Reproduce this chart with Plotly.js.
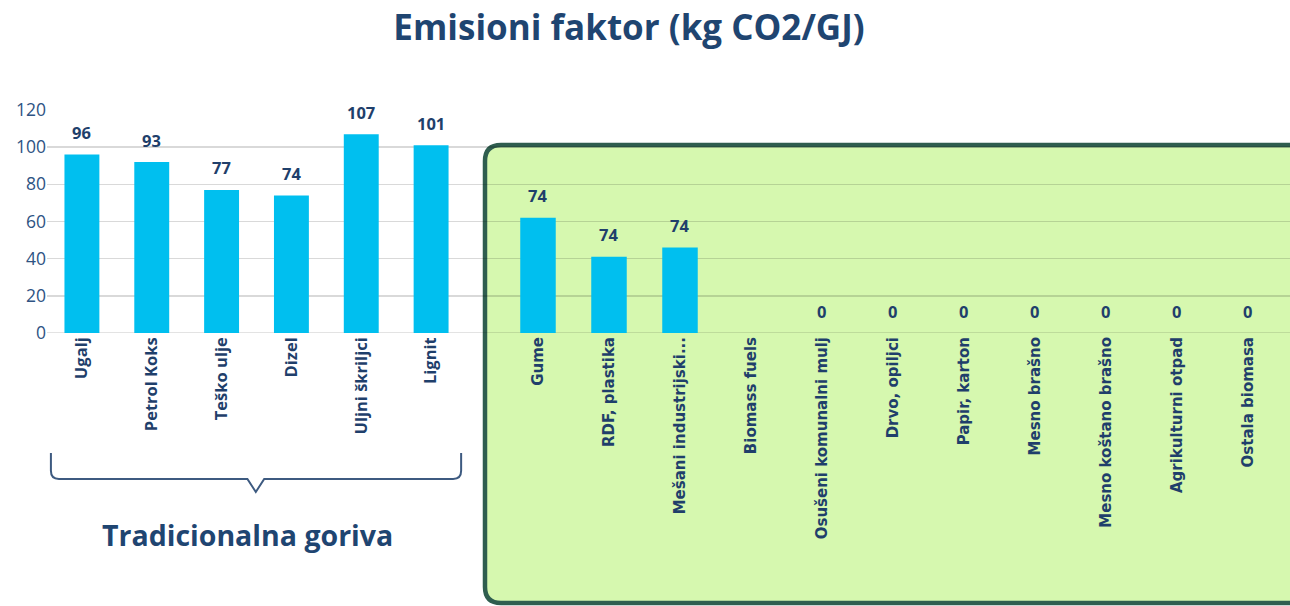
<!DOCTYPE html>
<html>
<head>
<meta charset="utf-8">
<script src="https://cdn.plot.ly/plotly-3.0.1.min.js"></script>
<style>html,body{margin:0;padding:0;background:#fff;}#chart{width:1290px;height:606px;}</style>
</head>
<body>
<div id="chart"></div>
<script>
// ---- data ----
var tradCategories = ["Ugalj", "Petrol Koks", "Teško ulje", "Dizel", "Uljni škriljci", "Lignit"];
var tradValues = [96, 92, 77, 74, 107, 101];
var tradLabels = ["96", "93", "77", "74", "107", "101"];

var altCategories = ["Gume", "RDF, plastika", "Mešani industrijski...", "Biomass fuels",
  "Osušeni komunalni mulj", "Drvo, opiljci", "Papir, karton", "Mesno brašno",
  "Mesno koštano brašno", "Agrikulturni otpad", "Ostala biomasa"];
var altValues = [62, 41, 46, null, 0, 0, 0, 0, 0, 0, 0];
var altLabels = ["74", "74", "74", "", "0", "0", "0", "0", "0", "0", "0"];

var yTickVals = [0, 20, 40, 60, 80, 100, 120];

var titleText = "Emisioni faktor (kg CO2/GJ)";
var groupText = "Tradicionalna goriva";

// ---- styles ----
var barColor = "#00BFEF";
var navy = "#1F3F6B";
var gridColor = "rgba(0,0,0,0.15)";

var traces = [
  {type: "scatter", x: [], y: [], xaxis: "x", yaxis: "y2", showlegend: false, hoverinfo: "skip"},
  {type: "bar", x: tradCategories, y: tradValues, xaxis: "x2", yaxis: "y",
   marker: {color: barColor}, showlegend: false},
  {type: "bar", x: altCategories, y: altValues, xaxis: "x3", yaxis: "y",
   marker: {color: barColor}, showlegend: false}
];

var annotations = [];
tradCategories.forEach(function (c, i) {
  annotations.push({x: c, y: tradValues[i], xref: "x2", yref: "y", text: tradLabels[i],
    showarrow: false, yshift: 22, yanchor: "middle",
    font: {family: "Open Sans", size: 16.5, color: navy, weight: "bold"}});
});
altCategories.forEach(function (c, i) {
  if (altLabels[i] === "") return;
  annotations.push({x: c, y: altValues[i], xref: "x3", yref: "y", text: altLabels[i],
    showarrow: false, yshift: 22, yanchor: "middle",
    font: {family: "Open Sans", size: 16.5, color: navy, weight: "bold"}});
});
annotations.push({x: 2.37, y: -0.906, xref: "x2", yref: "paper", text: "<b>" + groupText + "</b>",
  showarrow: false, xanchor: "center", yanchor: "middle",
  font: {family: "Open Sans", size: 28.5, color: "#1F4571"}});

var layout = {
  width: 1290, height: 606,
  margin: {l: 47, r: 0, t: 110, b: 273, pad: 0},
  paper_bgcolor: "#ffffff",
  plot_bgcolor: "rgba(0,0,0,0)",
  bargap: 0.5,
  title: {text: "<b>" + titleText + "</b>", x: 0.4876, xanchor: "center", y: 0.955, yanchor: "middle",
    font: {family: "Open Sans", size: 35, color: "#1F4571"}},
  xaxis: {domain: [0, 1], anchor: "y2", visible: false, range: [0, 1], fixedrange: true},
  yaxis2: {domain: [0, 1], anchor: "x", range: [0, 120], tickvals: yTickVals, showticklabels: false,
    showgrid: true, gridcolor: gridColor, gridwidth: 1.5, zeroline: false, showline: false, ticks: ""},
  xaxis2: {domain: [0, 0.3371], anchor: "y", type: "category", range: [-0.5, 5.5],
    tickangle: -90, ticks: "", showgrid: false, showline: false, zeroline: false,
    tickfont: {family: "Open Sans", size: 16.5, color: navy, weight: "bold"}},
  xaxis3: {domain: [0.36645, 0.99477], anchor: "y", type: "category", range: [-0.5, 10.5],
    tickangle: -90, ticks: "", showgrid: false, showline: false, zeroline: false,
    tickfont: {family: "DejaVu Sans", size: 15, color: navy, weight: "bold"}},
  yaxis: {domain: [0, 1], anchor: "x2", range: [0, 120], tickvals: yTickVals, showgrid: false,
    zeroline: false, showline: false, ticks: "",
    tickfont: {family: "Open Sans", size: 17.5, color: "#2E5383"}},
  shapes: [
    {type: "path", xref: "paper", yref: "paper", layer: "below",
     path: "", fillcolor: "#D6F8AF", line: {color: "#2F5E4F", width: 4.5}},
    {type: "line", xref: "paper", yref: "y", layer: "below", x0: 0, x1: 1, y0: 0, y1: 0,
     line: {color: gridColor, width: 1.5}},
    {type: "path", xref: "x2", yref: "paper", layer: "above",
     path: "M -0.444,-0.538 L -0.444,-0.618 Q -0.444,-0.6547 -0.33,-0.6547 L 2.37,-0.6547 L 2.49,-0.713 L 2.61,-0.6547 L 5.316,-0.6547 Q 5.43,-0.6547 5.43,-0.618 L 5.43,-0.538",
     line: {color: "#3D5A80", width: 2}}
  ],
  annotations: annotations
};

// green highlight panel, rounded corners (paper coordinates of the plot area)
(function () {
  var W = 1243, H = 223;
  function px(x) { return ((x - 47) / W).toFixed(5); }
  function py(y) { return ((333 - y) / H).toFixed(5); }
  var L = 485, T = 145, R = 1310, B = 603, r = 16;
  layout.shapes[0].path =
    "M " + px(L) + "," + py(T + r) +
    " Q " + px(L) + "," + py(T) + " " + px(L + r) + "," + py(T) +
    " L " + px(R - r) + "," + py(T) +
    " Q " + px(R) + "," + py(T) + " " + px(R) + "," + py(T + r) +
    " L " + px(R) + "," + py(B - r) +
    " Q " + px(R) + "," + py(B) + " " + px(R - r) + "," + py(B) +
    " L " + px(L + r) + "," + py(B) +
    " Q " + px(L) + "," + py(B) + " " + px(L) + "," + py(B - r) + " Z";
})();

Plotly.newPlot("chart", traces, layout, {displayModeBar: false, staticPlot: true});
</script>
</body>
</html>
